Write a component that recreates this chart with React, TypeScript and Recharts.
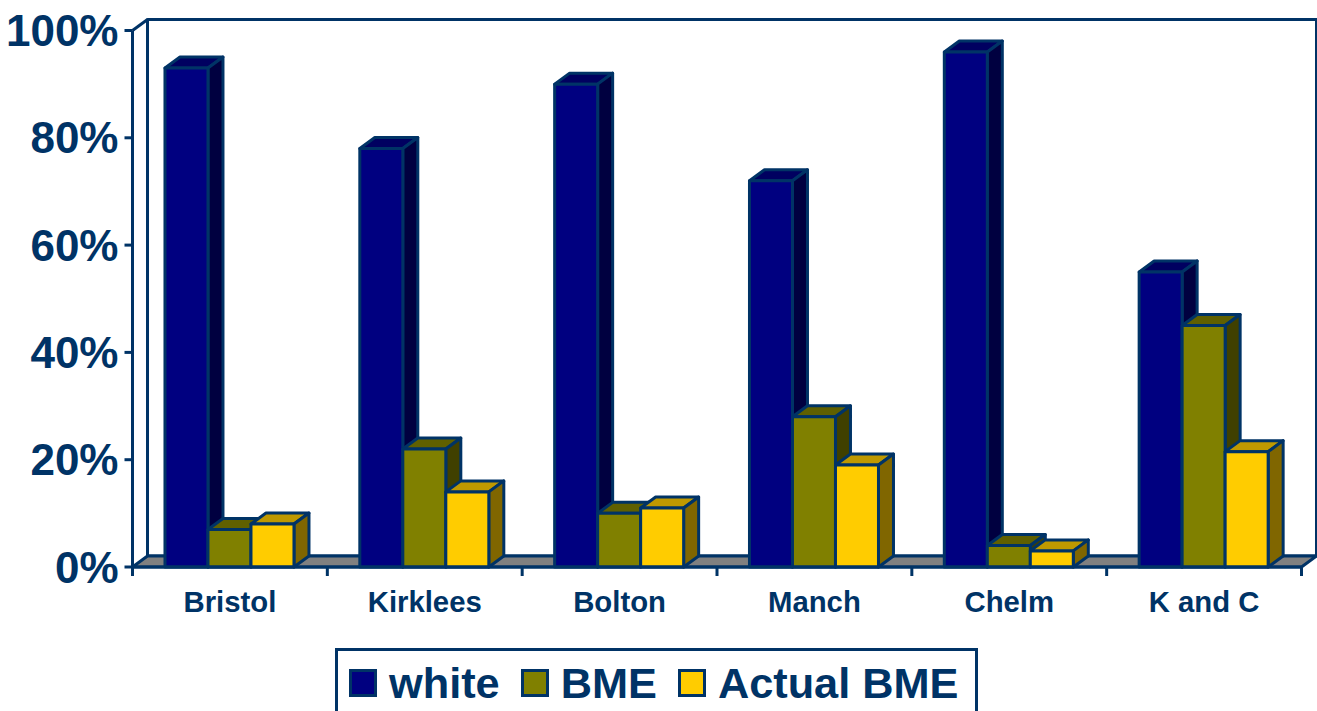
import React from "react";
import { BarChart, Bar, XAxis, YAxis, Legend, ReferenceArea } from "recharts";

const categories = ["Bristol", "Kirklees", "Bolton", "Manch", "Chelm", "K and C"];
const white = [93, 78, 90, 72, 96, 55];
const bme = [7, 22, 10, 28, 4, 45];
const actualBme = [8, 14, 11, 19, 3, 21.5];
const yTicks = [0, 20, 40, 60, 80, 100];

const data = categories.map((name, i) => ({ name, white: white[i], BME: bme[i], "Actual BME": actualBme[i] }));

const INK = "#003366";
const DX = 15;
const DY = 11;
const FONT = "'Liberation Sans', Arial, sans-serif";

const makeBar = (front: string, top: string, side: string) => (props: any) => {
  const { x, y, width: w, height: h } = props;
  if (w == null || h == null) return null;
  return (
    <g stroke={INK} strokeWidth={3} strokeLinejoin="round">
      <polygon points={`${x},${y} ${x + DX},${y - DY} ${x + w + DX},${y - DY} ${x + w},${y}`} fill={top} />
      <polygon points={`${x + w},${y} ${x + w + DX},${y - DY} ${x + w + DX},${y + h - DY} ${x + w},${y + h}`} fill={side} />
      <rect x={x} y={y} width={w} height={h} fill={front} />
    </g>
  );
};

const Room = (props: any) => {
  const { x, y, width: w, height: h } = props;
  const b = y + h;
  const r = x + w;
  return (
    <g stroke={INK} strokeWidth={3} strokeLinejoin="round">
      <rect x={x + DX} y={y - DY} width={w} height={h} fill="#ffffff" />
      <line x1={x} y1={y} x2={x + DX} y2={y - DY} />
      <polygon points={`${x},${b} ${x + DX},${b - DY} ${r + DX},${b - DY} ${r},${b}`} fill="#808080" />
    </g>
  );
};

const CategoryTick = (props: any) => {
  const { x, payload, index, visibleTicksCount, plotW } = props;
  const step = plotW / visibleTicksCount;
  return (
    <g>
      <line x1={x - step / 2} y1={567} x2={x - step / 2} y2={576} stroke={INK} strokeWidth={3} />
      {index === visibleTicksCount - 1 && (
        <line x1={x + step / 2} y1={567} x2={x + step / 2} y2={576} stroke={INK} strokeWidth={3} />
      )}
      <text x={x} y={612} textAnchor="middle" fontSize={29.3} fontWeight="bold" fontFamily={FONT} fill={INK}>
        {payload.value}
      </text>
    </g>
  );
};

const LegendBox = (props: any) => {
  const swatchGap = 12;
  const itemGap = 21;
  return (
    <div
      style={{
        boxSizing: "border-box",
        width: 643,
        height: 80,
        border: `3px solid ${INK}`,
        background: "#fff",
        display: "flex",
        alignItems: "flex-start",
        paddingLeft: 11,
        paddingTop: 7,
        fontFamily: FONT,
        fontWeight: "bold",
        fontSize: 43.3,
        lineHeight: "50px",
        color: INK,
        whiteSpace: "nowrap",
      }}
    >
      {(props.payload || []).map((item: any) => (
        <div key={item.value} style={{ display: "flex", alignItems: "center", marginRight: itemGap }}>
          <span
            style={{
              display: "inline-block",
              boxSizing: "border-box",
              width: 28,
              height: 28,
              background: item.color,
              border: `3px solid ${INK}`,
              marginRight: swatchGap,
            }}
          />
          <span>{item.value}</span>
        </div>
      ))}
    </div>
  );
};

export default function App() {
  return (
    <div style={{ position: "absolute", left: 0, top: 0, width: 1317, height: 711, overflow: "hidden", background: "#fff" }}>
      <BarChart
        width={1317}
        height={711}
        data={data}
        margin={{ top: 30.5, right: 15.5, left: 0, bottom: 0 }}
        barCategoryGap="16.67%"
        barGap={0}
      >
        <ReferenceArea y1={0} y2={100} shape={Room} fill="none" stroke="none" />
        <XAxis
          dataKey="name"
          height={64}
          axisLine={{ stroke: INK, strokeWidth: 3 }}
          tickLine={false}
          interval={0}
          tick={(p: any) => <CategoryTick {...p} plotW={1169} />}
        />
        <YAxis
          width={132.5}
          domain={[0, 100]}
          ticks={yTicks}
          tickFormatter={(v: number) => `${v}%`}
          axisLine={{ stroke: INK, strokeWidth: 3 }}
          tickLine={{ stroke: INK, strokeWidth: 3 }}
          tickSize={8}
          tickMargin={6}
          tick={{ fill: INK, fontSize: 44, fontWeight: "bold", fontFamily: FONT }}
        />
        <Legend
          verticalAlign="bottom"
          height={80}
          itemSorter={null}
          wrapperStyle={{ left: 335, top: 648, width: 643, height: 80 }}
          content={<LegendBox />}
        />
        <Bar dataKey="white" fill="#000080" isAnimationActive={false} shape={makeBar("#000080", "#000060", "#000040")} />
        <Bar dataKey="BME" fill="#808000" isAnimationActive={false} shape={makeBar("#808000", "#606000", "#404000")} />
        <Bar dataKey="Actual BME" fill="#FFCC00" isAnimationActive={false} shape={makeBar("#FFCC00", "#BF9900", "#806600")} />
      </BarChart>
    </div>
  );
}
